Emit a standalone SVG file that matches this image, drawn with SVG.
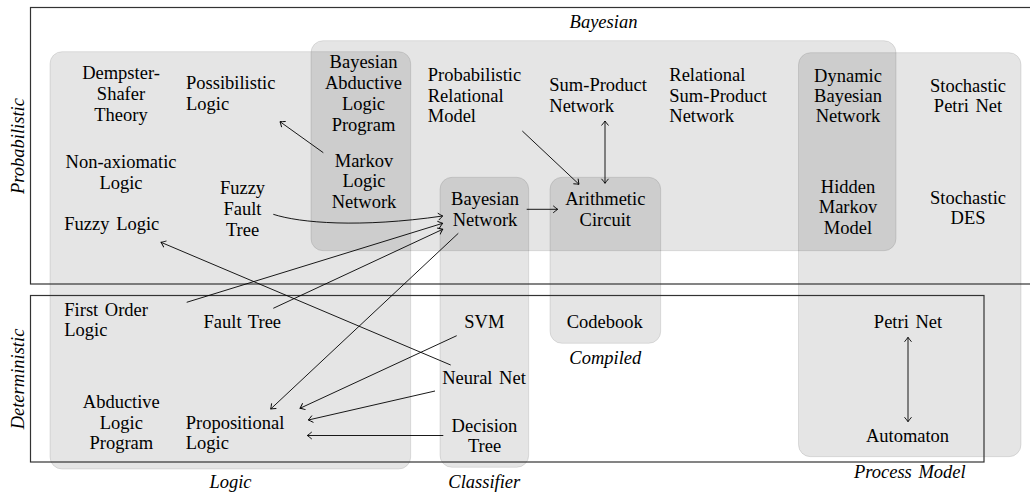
<svg xmlns="http://www.w3.org/2000/svg" width="1030" height="496" viewBox="0 0 1030 496">
<style>
.grp{fill:#000;fill-opacity:0.1;stroke:#000;stroke-opacity:0.1;stroke-width:1}
.frame{fill:none;stroke:#333;stroke-width:1.2}
.ln{fill:none;stroke:#000;stroke-width:0.9}
</style>
<defs>
<marker id="arr" viewBox="-6 -5 8 10" refX="0" refY="0" markerWidth="8" markerHeight="10" markerUnits="userSpaceOnUse" orient="auto-start-reverse">
<path d="M-4.5,-3.5 Q-1.5,-1 0,0 Q-1.5,1 -4.5,3.5" fill="none" stroke="#000" stroke-width="0.9"/>
</marker>
</defs>

<g id="groups">
<rect id="g-logic" class="grp" x="50" y="51.7" width="360.7" height="417.3" rx="12"/>
<rect id="g-bayesian" class="grp" x="311" y="40.7" width="585" height="210" rx="12"/>
<rect id="g-classifier" class="grp" x="440" y="177.3" width="88.7" height="290" rx="12"/>
<rect id="g-compiled" class="grp" x="550" y="177.3" width="110.7" height="166" rx="12"/>
<rect id="g-process" class="grp" x="798.5" y="52.7" width="222.5" height="404" rx="12"/>
</g>

<g id="frames">
<rect id="f-prob" class="frame" x="30.5" y="7.5" width="1010" height="276.5"/>
<rect id="f-det" class="frame" x="30.5" y="295.5" width="953.5" height="166.5"/>
<text style="font-family:'Liberation Serif',serif;font-size:18.5px;font-style:italic" text-anchor="middle" transform="translate(24,146) rotate(-90)">Probabilistic</text>
<text style="font-family:'Liberation Serif',serif;font-size:18.5px;font-style:italic" text-anchor="middle" transform="translate(24,379) rotate(-90)">Deterministic</text>
</g>

<g id="group-labels">
<text style="font-family:'Liberation Serif',serif;font-size:18.5px;font-style:italic" text-anchor="middle" x="603.5" y="28.3">Bayesian</text>
<text style="font-family:'Liberation Serif',serif;font-size:18.5px;font-style:italic" text-anchor="middle" x="230.5" y="487.7">Logic</text>
<text style="font-family:'Liberation Serif',serif;font-size:18.5px;font-style:italic" text-anchor="middle" x="484.3" y="488.3">Classifier</text>
<text style="font-family:'Liberation Serif',serif;font-size:18.5px;font-style:italic" text-anchor="middle" x="605.3" y="364">Compiled</text>
<text style="font-family:'Liberation Serif',serif;font-size:18.5px;font-style:italic;word-spacing:2px" text-anchor="middle" x="909.8" y="477.7">Process Model</text>
</g>

<g id="connectors">
<path class="ln" d="M323.3,152.7 L280,121.7" marker-end="url(#arr)"/>
<path class="ln" d="M273.3,214.3 C300,223 360,228 442.7,216" marker-end="url(#arr)"/>
<path class="ln" d="M186.7,302.3 L442.7,223.3" marker-end="url(#arr)"/>
<path class="ln" d="M273.3,308.3 L442.7,229.3" marker-end="url(#arr)"/>
<path class="ln" d="M458.3,233.3 L270.7,409" marker-end="url(#arr)"/>
<path class="ln" d="M450.7,365 L161,242.3" marker-end="url(#arr)"/>
<path class="ln" d="M456.7,335.7 L300,408.3" marker-end="url(#arr)"/>
<path class="ln" d="M435,391 L308.3,420" marker-end="url(#arr)"/>
<path class="ln" d="M443.3,435.5 L307.3,435.5" marker-end="url(#arr)"/>
<path class="ln" d="M526.7,209.3 L557.7,209.3" marker-end="url(#arr)"/>
<path class="ln" d="M522.3,131 L579,184.3" marker-end="url(#arr)"/>
<path class="ln" d="M605,121 L605,183.3" marker-start="url(#arr)" marker-end="url(#arr)"/>
<path class="ln" d="M908,337.3 L908,421.7" marker-start="url(#arr)" marker-end="url(#arr)"/>
</g>

<g id="n-dst"><text style="font-family:'Liberation Serif',serif;font-size:18.5px" text-anchor="middle"><tspan x="121" y="79">Dempster-</tspan><tspan x="121" y="100">Shafer</tspan><tspan x="121" y="120.5">Theory</tspan></text></g>
<g id="n-poss"><text style="font-family:'Liberation Serif',serif;font-size:18.5px"><tspan x="186" y="89.3">Possibilistic</tspan><tspan x="186" y="110">Logic</tspan></text></g>
<g id="n-balp"><text style="font-family:'Liberation Serif',serif;font-size:18.5px" text-anchor="middle"><tspan x="363.5" y="68.3">Bayesian</tspan><tspan x="363.5" y="89.3">Abductive</tspan><tspan x="363.5" y="110.3">Logic</tspan><tspan x="363.5" y="131">Program</tspan></text></g>
<g id="n-mln"><text style="font-family:'Liberation Serif',serif;font-size:18.5px" text-anchor="middle"><tspan x="364" y="166.7">Markov</tspan><tspan x="364" y="187.3">Logic</tspan><tspan x="364" y="207.5">Network</tspan></text></g>
<g id="n-nal"><text style="font-family:'Liberation Serif',serif;font-size:18.5px" text-anchor="middle"><tspan x="121" y="168.3">Non-axiomatic</tspan><tspan x="121" y="189">Logic</tspan></text></g>
<g id="n-fft"><text style="font-family:'Liberation Serif',serif;font-size:18.5px" text-anchor="middle"><tspan x="242.5" y="194.3">Fuzzy</tspan><tspan x="242.5" y="215">Fault</tspan><tspan x="242.5" y="236">Tree</tspan></text></g>
<g id="n-fl"><text style="font-family:'Liberation Serif',serif;font-size:18.5px;word-spacing:2px" x="64.3" y="230">Fuzzy Logic</text></g>
<g id="n-prm"><text style="font-family:'Liberation Serif',serif;font-size:18.5px"><tspan x="427.7" y="81">Probabilistic</tspan><tspan x="427.7" y="101.7">Relational</tspan><tspan x="427.7" y="122.3">Model</tspan></text></g>
<g id="n-spn"><text style="font-family:'Liberation Serif',serif;font-size:18.5px"><tspan x="549.3" y="91">Sum-Product</tspan><tspan x="549.3" y="111.7">Network</tspan></text></g>
<g id="n-rspn"><text style="font-family:'Liberation Serif',serif;font-size:18.5px"><tspan x="669.3" y="81">Relational</tspan><tspan x="669.3" y="101.7">Sum-Product</tspan><tspan x="669.3" y="122.3">Network</tspan></text></g>
<g id="n-bn"><text style="font-family:'Liberation Serif',serif;font-size:18.5px" text-anchor="middle"><tspan x="485" y="205">Bayesian</tspan><tspan x="485" y="225.7">Network</tspan></text></g>
<g id="n-ac"><text style="font-family:'Liberation Serif',serif;font-size:18.5px" text-anchor="middle"><tspan x="605.3" y="205">Arithmetic</tspan><tspan x="605.3" y="225.7">Circuit</tspan></text></g>
<g id="n-dbn"><text style="font-family:'Liberation Serif',serif;font-size:18.5px" text-anchor="middle"><tspan x="848" y="81.7">Dynamic</tspan><tspan x="848" y="101.7">Bayesian</tspan><tspan x="848" y="121.7">Network</tspan></text></g>
<g id="n-stpn"><text style="font-family:'Liberation Serif',serif;font-size:18.5px;word-spacing:2px" text-anchor="middle"><tspan x="968" y="91.7">Stochastic</tspan><tspan x="968" y="111.7">Petri Net</tspan></text></g>
<g id="n-hmm"><text style="font-family:'Liberation Serif',serif;font-size:18.5px" text-anchor="middle"><tspan x="848" y="193.3">Hidden</tspan><tspan x="848" y="213.3">Markov</tspan><tspan x="848" y="234">Model</tspan></text></g>
<g id="n-sdes"><text style="font-family:'Liberation Serif',serif;font-size:18.5px" text-anchor="middle"><tspan x="968" y="204">Stochastic</tspan><tspan x="968" y="224">DES</tspan></text></g>
<g id="n-fol"><text style="font-family:'Liberation Serif',serif;font-size:18.5px;word-spacing:2px"><tspan x="64.3" y="315.7">First Order</tspan><tspan x="64.3" y="336">Logic</tspan></text></g>
<g id="n-ft"><text style="font-family:'Liberation Serif',serif;font-size:18.5px;word-spacing:2px" text-anchor="middle" x="242.3" y="328.3">Fault Tree</text></g>
<g id="n-alp"><text style="font-family:'Liberation Serif',serif;font-size:18.5px" text-anchor="middle"><tspan x="121.3" y="407.7">Abductive</tspan><tspan x="121.3" y="429">Logic</tspan><tspan x="121.3" y="449.3">Program</tspan></text></g>
<g id="n-pl"><text style="font-family:'Liberation Serif',serif;font-size:18.5px"><tspan x="185.7" y="429.3">Propositional</tspan><tspan x="185.7" y="449.3">Logic</tspan></text></g>
<g id="n-svm"><text style="font-family:'Liberation Serif',serif;font-size:18.5px" text-anchor="middle" x="484.3" y="328.3">SVM</text></g>
<g id="n-nn"><text style="font-family:'Liberation Serif',serif;font-size:18.5px;word-spacing:2px" text-anchor="middle" x="484" y="384">Neural Net</text></g>
<g id="n-dt"><text style="font-family:'Liberation Serif',serif;font-size:18.5px" text-anchor="middle"><tspan x="484.5" y="431.7">Decision</tspan><tspan x="484.5" y="452.3">Tree</tspan></text></g>
<g id="n-cb"><text style="font-family:'Liberation Serif',serif;font-size:18.5px" text-anchor="middle" x="604.7" y="328.3">Codebook</text></g>
<g id="n-pn"><text style="font-family:'Liberation Serif',serif;font-size:18.5px;word-spacing:2px" text-anchor="middle" x="908" y="328.3">Petri Net</text></g>
<g id="n-aut"><text style="font-family:'Liberation Serif',serif;font-size:18.5px" text-anchor="middle" x="907.5" y="441.7">Automaton</text></g>
</svg>
